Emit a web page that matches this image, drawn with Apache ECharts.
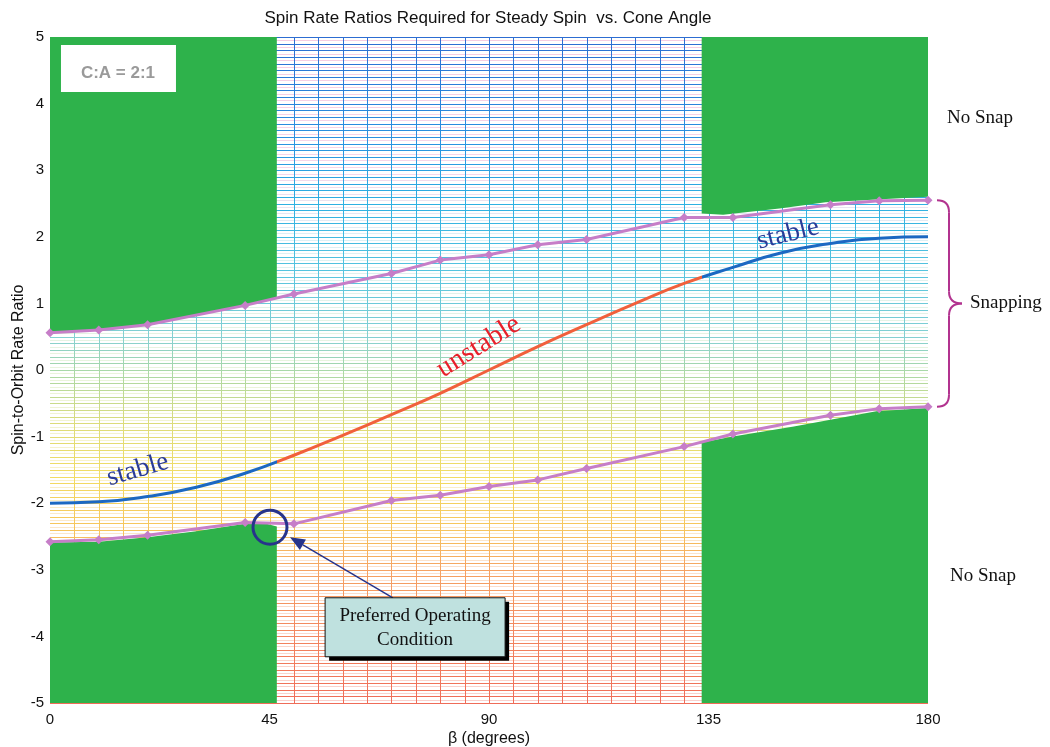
<!DOCTYPE html>
<html>
<head>
<meta charset="utf-8">
<script src="https://cdn.jsdelivr.net/npm/echarts@6/dist/echarts.min.js"></script>
<style>
  html, body { margin: 0; padding: 0; background: #ffffff; }
  #chart { width: 1050px; height: 747px; }
</style>
</head>
<body>
<div id="chart"></div>
<script>
// ---- data -------------------------------------------------------------
const xTicks = [0, 45, 90, 135, 180];
const yTicks = [-5, -4, -3, -2, -1, 0, 1, 2, 3, 4, 5];

// upper snapping boundary (markers)
const upperBeta  = [0, 10, 20, 40, 50, 70, 80, 90, 100, 110, 130, 140, 160, 170, 180];
const upperRatio = [0.56, 0.60, 0.68, 0.97, 1.14, 1.45, 1.65, 1.73, 1.88, 1.96, 2.29, 2.29, 2.48, 2.54, 2.55];

// lower snapping boundary (markers)
const lowerBeta  = [0, 10, 20, 40, 50, 70, 80, 90, 100, 110, 130, 140, 160, 170, 180];
const lowerRatio = [-2.58, -2.55, -2.48, -2.29, -2.31, -1.96, -1.88, -1.75, -1.65, -1.48, -1.15, -0.96, -0.68, -0.58, -0.55];

// steady-spin ratio curve
const spinBeta  = [0, 10, 20, 30, 40, 50, 60, 70, 80, 90, 100, 110, 120, 130, 140, 150, 160, 170, 180];
const spinRatio = [-2.00, -1.98, -1.90, -1.76, -1.55, -1.28, -0.98, -0.67, -0.35, 0.00, 0.35, 0.68, 1.00, 1.30, 1.54, 1.76, 1.90, 1.98, 2.00];

// stability limits along beta
const stableEndBeta = 46.5;
const stableStartBeta = 133.6;

// "no snap" regions (edges)
const noSnapUL_beta  = [0, 10, 20, 30, 40, 46.5];
const noSnapUL_ratio = [0.57, 0.61, 0.69, 0.83, 0.97, 1.09];
const noSnapLL_beta  = [0, 10, 20, 30, 40, 44, 46.5];
const noSnapLL_ratio = [-2.59, -2.58, -2.51, -2.42, -2.31, -2.30, -2.35];
const noSnapUR_beta  = [133.6, 138, 150, 159, 180];
const noSnapUR_ratio = [2.35, 2.33, 2.43, 2.52, 2.60];
const noSnapLR_beta  = [133.6, 140, 152.5, 169.4, 180];
const noSnapLR_ratio = [-1.09, -1.00, -0.85, -0.62, -0.57];

// ---- helpers ------------------------------------------------------------
const X_MIN = 0, X_MAX = 180, Y_MIN = -5, Y_MAX = 5;
const pairs = (xs, ys) => xs.map((x, i) => [x, ys[i]]);

const primaryStops = [
  [5, '#2d6dd2'], [3.5, '#2a90e0'], [2.5, '#2fb0e2'], [1.5, '#55c4df'],
  [0.5, '#84d0d2'], [0, '#a8d8a8'], [-0.8, '#dcdc7a'], [-1.6, '#f2dc62'],
  [-2.4, '#f6c45c'], [-3, '#f5a262'], [-4, '#f2845e'], [-5, '#ef6c58']
];
const secondaryStops = [
  [5, '#f6cce2'], [3, '#f6d6ea'], [2, '#dcf0f6'], [0, '#e8f4dc'],
  [-1.5, '#faf2c8'], [-3, '#fbe0cc'], [-5, '#f9d0cc']
];

function hexToRgb(h) {
  return [parseInt(h.slice(1, 3), 16), parseInt(h.slice(3, 5), 16), parseInt(h.slice(5, 7), 16)];
}
function colorAt(stops, v) {
  if (v >= stops[0][0]) return stops[0][1];
  for (let i = 1; i < stops.length; i++) {
    if (v >= stops[i][0]) {
      const [v0, c0] = stops[i - 1], [v1, c1] = stops[i];
      const t = (v0 - v) / (v0 - v1);
      const a = hexToRgb(c0), b = hexToRgb(c1);
      const m = a.map((x, k) => Math.round(x + (b[k] - x) * t));
      return 'rgb(' + m.join(',') + ')';
    }
  }
  return stops[stops.length - 1][1];
}

// background ruling: horizontal every 0.05, vertical every 5 degrees
const hLineData = [];
for (let k = -100; k <= 100; k++) hLineData.push([X_MIN, k * 0.05, k % 2 === 0 ? 1 : 0]);
const vLineData = [];
for (let b = 5; b < X_MAX; b += 5) vLineData.push([b, 0]);

function renderHLine(params, api) {
  const v = api.value(1);
  const primary = api.value(2) === 1;
  const a = api.coord([X_MIN, v]);
  const b = api.coord([X_MAX, v]);
  const y = Math.round(a[1]) + 0.5;
  return {
    type: 'line', silent: true,
    shape: { x1: a[0], y1: y, x2: b[0], y2: y },
    style: { stroke: colorAt(primary ? primaryStops : secondaryStops, v), lineWidth: 1 }
  };
}
function renderVLine(params, api) {
  const bx = api.value(0);
  const top = api.coord([bx, Y_MAX]);
  const bot = api.coord([bx, Y_MIN]);
  const x = Math.round(top[0]) + 0.5;
  return {
    type: 'line', silent: true,
    shape: { x1: x, y1: top[1], x2: x, y2: bot[1] },
    style: {
      lineWidth: 1,
      stroke: {
        type: 'linear', global: true, x: x, y: top[1], x2: x, y2: bot[1],
        colorStops: primaryStops.map(([v, c]) => ({ offset: (Y_MAX - v) / (Y_MAX - Y_MIN), color: c }))
      }
    }
  };
}

const GREEN = '#2eb24b';
const MAGENTA = '#c67ec8';
const areaSeries = (data, origin) => ({
  type: 'line', data: data, symbol: 'none', silent: true, z: 3,
  lineStyle: { width: 0 }, areaStyle: { color: GREEN, opacity: 1, origin: origin },
  animation: false
});
const boundarySeries = (data) => ({
  type: 'line', data: data, symbol: 'diamond', symbolSize: 9, z: 4,
  lineStyle: { color: MAGENTA, width: 3 }, itemStyle: { color: MAGENTA },
  animation: false
});

const chart = echarts.init(document.getElementById('chart'), null, { renderer: 'canvas' });

const sans = 'Liberation Sans, Arial, sans-serif';
const serif = 'Liberation Serif, Times New Roman, serif';
const labelFont = { fontFamily: sans, fontSize: 15, color: '#111' };

const option = {
  animation: false,
  grid: { left: 50, right: 122, top: 37, bottom: 44, containLabel: false, outerBoundsMode: 'none' },
  xAxis: {
    type: 'value', min: X_MIN, max: X_MAX, interval: 45,
    name: 'β (degrees)', nameLocation: 'middle', nameGap: 28, nameMoveOverlap: false,
    nameTextStyle: { fontFamily: sans, fontSize: 16, color: '#111' },
    axisLine: { show: false }, axisTick: { show: false }, splitLine: { show: false },
    axisLabel: Object.assign({ margin: 9, formatter: v => xTicks.includes(v) ? String(v) : '' }, labelFont)
  },
  yAxis: {
    type: 'value', min: Y_MIN, max: Y_MAX, interval: 1,
    name: 'Spin-to-Orbit Rate Ratio', nameLocation: 'middle', nameGap: 23, nameMoveOverlap: false,
    nameTextStyle: { fontFamily: sans, fontSize: 16, color: '#111' },
    axisLine: { show: false }, axisTick: { show: false }, splitLine: { show: false },
    axisLabel: Object.assign({ margin: 6, formatter: v => yTicks.includes(v) ? String(v) : '' }, labelFont)
  },
  visualMap: [{
    type: 'piecewise', show: false, dimension: 0, seriesIndex: 8,
    pieces: [
      { lt: stableEndBeta, color: '#1c68c2' },
      { gte: stableEndBeta, lte: stableStartBeta, color: '#f1603c' },
      { gt: stableStartBeta, color: '#1c68c2' }
    ]
  }],
  series: [
    { type: 'custom', renderItem: renderHLine, data: hLineData, encode: { x: 0, y: 1 }, z: 1, silent: true, animation: false },
    { type: 'custom', renderItem: renderVLine, data: vLineData, encode: { x: 0, y: 1 }, z: 1, silent: true, animation: false },
    areaSeries(pairs(noSnapUL_beta, noSnapUL_ratio), 'end'),
    areaSeries(pairs(noSnapLL_beta, noSnapLL_ratio), 'start'),
    areaSeries(pairs(noSnapUR_beta, noSnapUR_ratio), 'end'),
    areaSeries(pairs(noSnapLR_beta, noSnapLR_ratio), 'start'),
    boundarySeries(pairs(upperBeta, upperRatio)),
    boundarySeries(pairs(lowerBeta, lowerRatio)),
    {
      type: 'line', data: pairs(spinBeta, spinRatio), smooth: true, symbol: 'none', z: 5,
      lineStyle: { width: 3 }, animation: false
    }
  ]
};
chart.setOption(option);

// ---- annotations anchored to data coordinates ---------------------------
const px = (b, r) => chart.convertToPixel({ gridIndex: 0 }, [b, r]);
const deg = d => d * Math.PI / 180;

const gTitle = px(90, Y_MAX);
const pStableL = px(18.0, -1.50);
const pUnstable = px(87.9, 0.35);
const pStableR = px(151.3, 2.04);
const pBox = px(2.25, 4.88);
const pRight = px(X_MAX, 0);
const pUpperEnd = px(X_MAX, upperRatio[upperRatio.length - 1]);
const pLowerEnd = px(X_MAX, lowerRatio[lowerRatio.length - 1]);
const yNoSnapTop = px(X_MAX, 3.78)[1];
const yNoSnapBot = px(X_MAX, -3.09)[1];
const pCircle = px(45.1, -2.36);
const pArrowTip = px(49.2, -2.51);
const pArrowTail = px(70.3, -3.42);
const pCallout = px(56.4, -3.42);

const calloutW = 180, calloutH = 59;
const ang = Math.atan2(pArrowTip[1] - pArrowTail[1], pArrowTip[0] - pArrowTail[0]);
const headLen = 15, headHalf = 6;
const hb = [pArrowTip[0] - headLen * Math.cos(ang), pArrowTip[1] - headLen * Math.sin(ang)];
const head = [
  pArrowTip,
  [hb[0] + headHalf * Math.sin(ang), hb[1] - headHalf * Math.cos(ang)],
  [hb[0] - headHalf * Math.sin(ang), hb[1] + headHalf * Math.cos(ang)]
];

// curly brace beside the snapping band
const bx = pUpperEnd[0] + 9;
const yTop = pUpperEnd[1], yBot = pLowerEnd[1], yMid = (yTop + yBot) / 2;
const spine = bx + 12, tip = bx + 25, rr = 12;
const braceStyle = { fill: 'none', stroke: '#b2338f', lineWidth: 2 };
const brace = [
  { type: 'bezierCurve', shape: { x1: bx, y1: yTop, cpx1: spine, cpy1: yTop, x2: spine, y2: yTop + rr } },
  { type: 'line', shape: { x1: spine, y1: yTop + rr, x2: spine, y2: yMid - rr } },
  { type: 'bezierCurve', shape: { x1: spine, y1: yMid - rr, cpx1: spine, cpy1: yMid, x2: tip, y2: yMid } },
  { type: 'bezierCurve', shape: { x1: tip, y1: yMid, cpx1: spine, cpy1: yMid, x2: spine, y2: yMid + rr } },
  { type: 'line', shape: { x1: spine, y1: yMid + rr, x2: spine, y2: yBot - rr } },
  { type: 'bezierCurve', shape: { x1: spine, y1: yBot - rr, cpx1: spine, cpy1: yBot, x2: bx, y2: yBot } }
].map(e => Object.assign(e, { z: 20, style: braceStyle }));

chart.setOption({
  graphic: [
    { type: 'text', x: gTitle[0] - 1, y: 18, z: 20,
      style: { text: 'Spin Rate Ratios Required for Steady Spin  vs. Cone Angle', font: '17px ' + sans, fill: '#111', align: 'center', verticalAlign: 'middle' } },

    { type: 'rect', z: 20, shape: { x: pBox[0], y: pBox[1], width: 115, height: 47 }, style: { fill: '#ffffff' } },
    { type: 'text', z: 21, x: pBox[0] + 57, y: pBox[1] + 28,
      style: { text: 'C:A = 2:1', font: 'bold 17px ' + sans, fill: '#9a9a9a', align: 'center', verticalAlign: 'middle' } },

    { type: 'text', z: 20, x: pStableL[0], y: pStableL[1], rotation: deg(16),
      style: { text: 'stable', font: '27px ' + serif, fill: '#2b3c98', align: 'center', verticalAlign: 'middle' } },
    { type: 'text', z: 20, x: pUnstable[0], y: pUnstable[1], rotation: deg(32),
      style: { text: 'unstable', font: '28px ' + serif, fill: '#e8202a', align: 'center', verticalAlign: 'middle' } },
    { type: 'text', z: 20, x: pStableR[0], y: pStableR[1], rotation: deg(14),
      style: { text: 'stable', font: '27px ' + serif, fill: '#2b3c98', align: 'center', verticalAlign: 'middle' } },

    { type: 'text', z: 20, x: pRight[0] + 19, y: yNoSnapTop,
      style: { text: 'No Snap', font: '19px ' + serif, fill: '#111', align: 'left', verticalAlign: 'middle' } },
    { type: 'text', z: 20, x: pRight[0] + 22, y: yNoSnapBot,
      style: { text: 'No Snap', font: '19px ' + serif, fill: '#111', align: 'left', verticalAlign: 'middle' } },
    ...brace,
    { type: 'text', z: 20, x: tip + 8, y: yMid,
      style: { text: 'Snapping', font: '19px ' + serif, fill: '#111', align: 'left', verticalAlign: 'middle' } },

    { type: 'circle', z: 20, shape: { cx: pCircle[0], cy: pCircle[1], r: 17 },
      style: { fill: 'none', stroke: '#27348b', lineWidth: 3 } },
    { type: 'line', z: 20, shape: { x1: pArrowTail[0], y1: pArrowTail[1], x2: hb[0], y2: hb[1] },
      style: { stroke: '#27348b', lineWidth: 1.5 } },
    { type: 'polygon', z: 20, shape: { points: head }, style: { fill: '#27348b' } },

    { type: 'rect', z: 21, shape: { x: pCallout[0] + 4, y: pCallout[1] + 4, width: calloutW, height: calloutH },
      style: { fill: '#000000' } },
    { type: 'rect', z: 22, shape: { x: pCallout[0], y: pCallout[1], width: calloutW, height: calloutH },
      style: { fill: '#bfe1df', stroke: '#111', lineWidth: 1 } },
    { type: 'text', z: 23, x: pCallout[0] + calloutW / 2, y: pCallout[1] + calloutH / 2 + 1,
      style: { text: 'Preferred Operating\nCondition', font: '19px ' + serif, lineHeight: 24, fill: '#111', align: 'center', verticalAlign: 'middle' } }
  ]
});
</script>
</body>
</html>
